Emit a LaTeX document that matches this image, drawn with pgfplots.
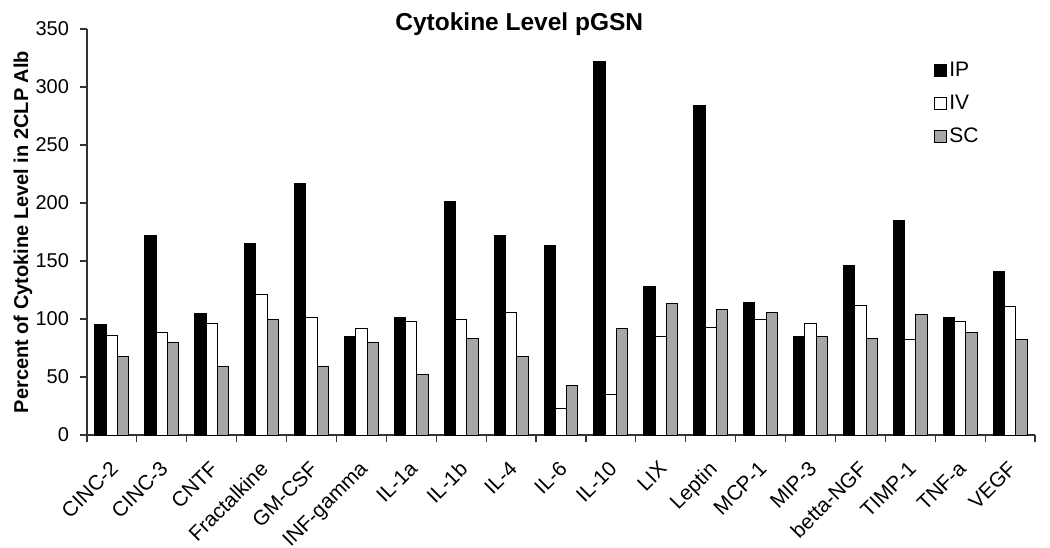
\documentclass[border=0pt]{standalone}
\usepackage{pgfplots}
\pgfplotsset{compat=1.18}
\usepackage{pgfplotstable}
\usepackage{fontspec}
\setmainfont{Liberation Sans}
\definecolor{scgray}{RGB}{166,166,166}
\pgfplotstableread{
x IP IV SC
0 95 86 68
1 172 88 80
2 105 96 59
3 165 121 100
4 217 101 59
5 85 92 80
6 101 98 52
7 201 100 83
8 172 106 68
9 163 23 43
10 322 35 92
11 128 85 113
12 284 93 108
13 114 100 106
14 85 96 85
15 146 112 83
16 185 82 104
17 101 98 88
18 141 111 82
}\datatable
\begin{document}
\begin{tikzpicture}
\begin{axis}[
  at={(0,0)}, anchor=south west,
  scale only axis,
  width=474pt, height=203pt,
  ybar=0pt, bar width=5.65pt,
  xmin=-0.5, xmax=18.5,
  ymin=0, ymax=350,
  ytick={0,50,...,350},
  xtick={-0.5,0.5,...,18.5},
  xticklabels={},
  extra x ticks={0,1,...,18},
  extra x tick labels={CINC-2,CINC-3,CNTF,Fractalkine,GM-CSF,INF-gamma,IL-1a,IL-1b,IL-4,IL-6,IL-10,LIX,Leptin,MCP-1,MIP-3,betta-NGF,TIMP-1,TNF-a,VEGF},
  extra x tick style={major tick length=0pt, tick label style={xshift=-1.5pt, yshift=-7.5pt, rotate=45, anchor=north east, font=\fontsize{10.4}{12}\selectfont}},
  axis lines*=left,
  axis line style={black!80, line width=0.6pt},
  tick style={black!80, line width=0.6pt},
  tick align=outside,
  major tick length=3.5pt,
  tick label style={font=\fontsize{10}{12}\selectfont},
  yticklabel style={xshift=-2pt},
  /pgf/number format/assume math mode=true,
  ylabel={\bfseries Percent of Cytokine Level in 2CLP Alb},
  ylabel style={at={(axis description cs:-0.0675,0.5)}, anchor=center, font=\fontsize{10}{12}\selectfont},
  title={\bfseries Cytokine Level pGSN},
  every axis title shift=0pt,
  title style={at={(axis description cs:0.456,1)}, anchor=base, yshift=-0.5pt, font=\fontsize{12.25}{14}\selectfont},
  legend style={draw=none, fill=none, at={(axis description cs:0.893,0.925)}, anchor=north west, font=\fontsize{10.5}{12}\selectfont, row sep=5.2pt, inner sep=0pt, nodes={inner sep=1.2pt}},
  legend cell align=left,
  legend image code/.code={\draw[#1, line width=0.5pt] (0pt,-3pt) rectangle (6pt,3pt);},
  clip=false,
]
\addplot[draw=black, line width=0.5pt, fill=black] table[x=x, y=IP] {\datatable};
\addplot[draw=black, line width=0.5pt, fill=white] table[x=x, y=IV] {\datatable};
\addplot[draw=black, line width=0.5pt, fill=scgray] table[x=x, y=SC] {\datatable};
\legend{IP,IV,SC}
\end{axis}
\pgfresetboundingbox
\useasboundingbox (-43.5pt,-56pt) rectangle (481.5pt,217.5pt);
\end{tikzpicture}
\end{document}
